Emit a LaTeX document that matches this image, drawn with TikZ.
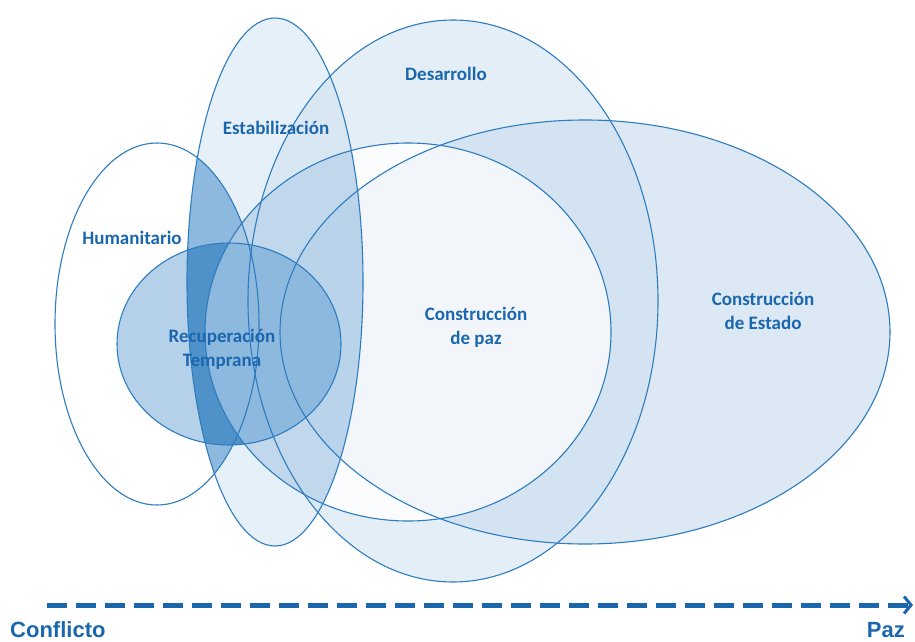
\documentclass[tikz,border=0pt]{standalone}
\usepackage{fontspec}
\newfontfamily\lblfont{Carlito}
\newfontfamily\axfont{Liberation Sans}
\usetikzlibrary{arrows.meta}
% palette
\definecolor{edge}{HTML}{2E7CC0}
\definecolor{txt}{HTML}{1B67AE}
\definecolor{cD}{HTML}{E4EEF7}
\definecolor{cE}{HTML}{DCE8F4}
\definecolor{cDE}{HTML}{D3E3F1}
\definecolor{cP}{HTML}{FAFCFE}
\definecolor{cPE}{HTML}{F2F6FA}
\definecolor{cS}{HTML}{E6F0F8}
\definecolor{cSD}{HTML}{D9E7F3}
\definecolor{cSP}{HTML}{C0D7EC}
\definecolor{cSPE}{HTML}{B9D3EA}
\definecolor{cSH}{HTML}{8DB9DE}
\definecolor{cSHP}{HTML}{A8C8E4}
\definecolor{cR}{HTML}{B5D1EA}
\definecolor{cRS}{HTML}{4F92C9}
\definecolor{cRP}{HTML}{8DB9DE}
\begin{document}
\begin{tikzpicture}[x=1pt,y=-1pt,
  rim/.style={draw=edge,line width=1.1pt},
  lbl/.style={text=txt,font=\lblfont\bfseries\fontsize{19}{24}\selectfont,align=center,inner sep=0pt},
  axlbl/.style={text=txt,font=\axfont\bfseries\fontsize{22}{26}\selectfont,inner sep=0pt},
  axis/.style={draw=txt,line width=5pt,dash pattern=on 20pt off 9pt,
    -{Straight Barb[length=7pt,width=17pt,line width=3pt]}}]
\useasboundingbox (0,0) rectangle (915,642);

% the six areas
\def\Hum{(157,324) ellipse [x radius=102pt, y radius=181pt]}
\def\Est{(275,282) ellipse [x radius=88pt, y radius=264pt]}
\def\Des{(453,301) ellipse [x radius=205pt, y radius=281pt]}
\def\Sta{(585,332) ellipse [x radius=305pt, y radius=212pt]}
\def\Paz{(408,332) ellipse [x radius=203pt, y radius=189pt]}
\def\Rec{(229,344) ellipse [x radius=112pt, y radius=101pt]}

% fills, from the back to the front
\fill[cD] \Des;
\fill[cE] \Sta;
\begin{scope}\clip \Des; \fill[cDE] \Sta; \end{scope}
\fill[cP] \Paz;
\begin{scope}\clip \Paz; \fill[cPE] \Sta; \end{scope}
\fill[cS] \Est;
\begin{scope}\clip \Est; \fill[cSD] \Des; \end{scope}
\begin{scope}\clip \Est; \fill[cSP] \Paz; \end{scope}
\begin{scope}\clip \Est; \clip \Paz; \fill[cSPE] \Sta; \end{scope}
\begin{scope}\clip \Est; \fill[cSH] \Hum; \end{scope}
\begin{scope}\clip \Est; \clip \Hum; \fill[cSHP] \Paz; \end{scope}
\fill[cR] \Rec;
\begin{scope}\clip \Rec; \fill[cRS] \Est; \end{scope}
\begin{scope}\clip \Rec; \fill[cRP] \Paz; \end{scope}

% outlines
\path[rim] \Des;
\path[rim] \Sta;
\path[rim] \Paz;
\path[rim] \Est;
\path[rim] \Hum;
\path[rim] \Rec;

% labels
\node[lbl] (hum) at (132,238) {Humanitario};
\node[lbl] (est) at (276,128) {Estabilización};
\node[lbl] (des) at (446,74) {Desarrollo};
\node[lbl] (rec) at (222,349) {Recuperación\\Temprana};
\node[lbl] (paz) at (476,327) {Construcción\\de paz};
\node[lbl] (sta) at (763,311) {Construcción\\de Estado};

% conflict-to-peace axis
\coordinate (axL) at (47,605);
\coordinate (axR) at (913,605);
\draw[axis] (axL) -- (axR);
\node[axlbl,anchor=base west] (conf) at (10,637) {Conflicto};
\node[axlbl,anchor=base east] (pz) at (905,637) {Paz};
\end{tikzpicture}
\end{document}
